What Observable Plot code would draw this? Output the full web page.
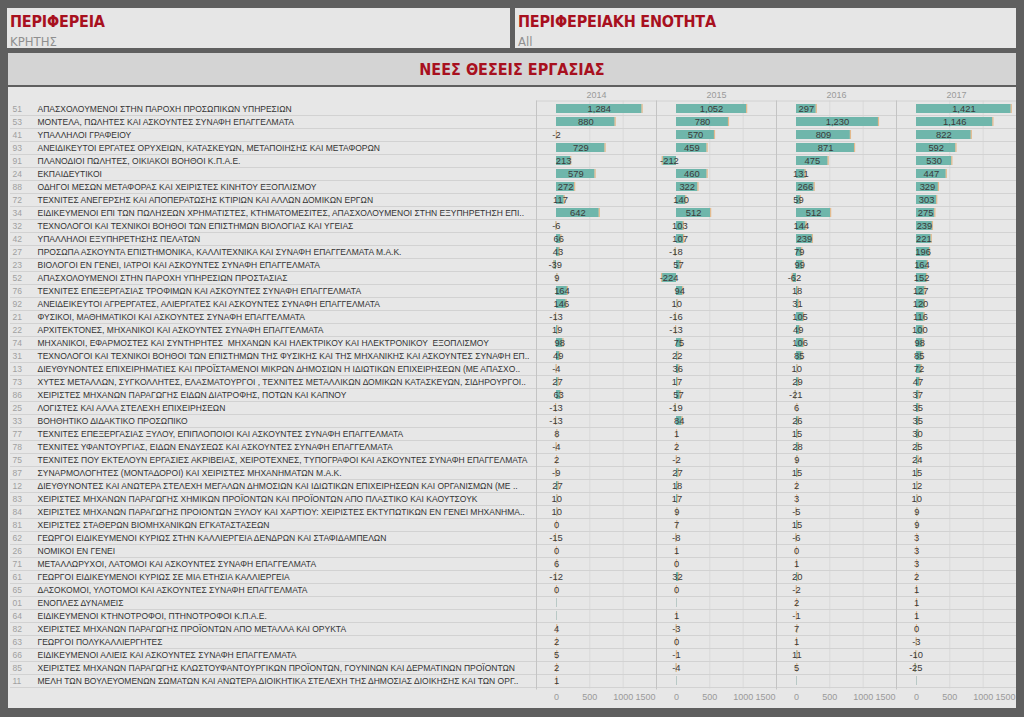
<!DOCTYPE html>
<html><head><meta charset="utf-8">
<script src="https://cdn.jsdelivr.net/npm/d3@7"></script>
<script src="https://cdn.jsdelivr.net/npm/@observablehq/plot@0.6"></script>
<style>
body{margin:0;background:#5f5f5f;width:1024px;height:717px;position:relative;overflow:hidden;font-family:"Liberation Sans",sans-serif}
.box{position:absolute;background:#e6e6e6}
.ttl{position:absolute;left:3px;top:4px;color:#a8101e;font:bold 16px "DejaVu Sans Condensed","DejaVu Sans",sans-serif;letter-spacing:-0.2px}
.val{position:absolute;left:3px;top:26px;color:#8f8f8f;font:13px "DejaVu Sans Condensed","DejaVu Sans",sans-serif}
#head{position:absolute;left:8px;top:53px;width:1008px;height:32px;background:#d4d4d4;display:flex;align-items:center;justify-content:center;color:#a8101e;font:bold 16px "DejaVu Sans Condensed","DejaVu Sans",sans-serif}
#tbl{position:absolute;left:8px;top:87px;width:1008px;height:621px;background:#e7e7e7}
</style></head>
<body>
<div class="box" style="left:7px;top:8px;width:503px;height:40px"><div class="ttl">ΠΕΡΙΦΕΡΕΙΑ</div><div class="val">ΚΡΗΤΗΣ</div></div>
<div class="box" style="left:515px;top:8px;width:501px;height:40px"><div class="ttl">ΠΕΡΙΦΕΡΕΙΑΚΗ ΕΝΟΤΗΤΑ</div><div class="val">All</div></div>
<div id="head">ΝΕΕΣ ΘΕΣΕΙΣ ΕΡΓΑΣΙΑΣ</div>
<div id="tbl"></div>
<script>
const years = ["2014", "2015", "2016", "2017"];
const codes = ["51","53","41","93","91","24","88","72","34","32","42","27","23","52","76","92","21","22","74","31","13","73","86","25","33","77","78","75","87","12","83","84","81","62","26","71","61","65","01","64","82","63","66","85","11"];
const labels = [
"ΑΠΑΣΧΟΛΟΥΜΕΝΟΙ ΣΤΗΝ ΠΑΡΟΧΗ ΠΡΟΣΩΠΙΚΩΝ ΥΠΗΡΕΣΙΩΝ",
"ΜΟΝΤΕΛΑ, ΠΩΛΗΤΕΣ ΚΑΙ ΑΣΚΟΥΝΤΕΣ ΣΥΝΑΦΗ ΕΠΑΓΓΕΛΜΑΤΑ",
"ΥΠΑΛΛΗΛΟΙ ΓΡΑΦΕΙΟΥ",
"ΑΝΕΙΔΙΚΕΥΤΟΙ ΕΡΓΑΤΕΣ ΟΡΥΧΕΙΩΝ, ΚΑΤΑΣΚΕΥΩΝ, ΜΕΤΑΠΟΙΗΣΗΣ ΚΑΙ ΜΕΤΑΦΟΡΩΝ",
"ΠΛΑΝΟΔΙΟΙ ΠΩΛΗΤΕΣ, ΟΙΚΙΑΚΟΙ ΒΟΗΘΟΙ Κ.Π.Α.Ε.",
"ΕΚΠΑΙΔΕΥΤΙΚΟΙ",
"ΟΔΗΓΟΙ ΜΕΣΩΝ ΜΕΤΑΦΟΡΑΣ ΚΑΙ ΧΕΙΡΙΣΤΕΣ ΚΙΝΗΤΟΥ ΕΞΟΠΛΙΣΜΟΥ",
"ΤΕΧΝΙΤΕΣ ΑΝΕΓΕΡΣΗΣ ΚΑΙ ΑΠΟΠΕΡΑΤΩΣΗΣ ΚΤΙΡΙΩΝ ΚΑΙ ΑΛΛΩΝ ΔΟΜΙΚΩΝ ΕΡΓΩΝ",
"ΕΙΔΙΚΕΥΜΕΝΟΙ ΕΠΙ ΤΩΝ ΠΩΛΗΣΕΩΝ ΧΡΗΜΑΤΙΣΤΕΣ, ΚΤΗΜΑΤΟΜΕΣΙΤΕΣ, ΑΠΑΣΧΟΛΟΥΜΕΝΟΙ ΣΤΗΝ ΕΞΥΠΗΡΕΤΗΣΗ ΕΠΙ..",
"ΤΕΧΝΟΛΟΓΟΙ ΚΑΙ ΤΕΧΝΙΚΟΙ ΒΟΗΘΟΙ ΤΩΝ ΕΠΙΣΤΗΜΩΝ ΒΙΟΛΟΓΙΑΣ ΚΑΙ ΥΓΕΙΑΣ",
"ΥΠΑΛΛΗΛΟΙ ΕΞΥΠΗΡΕΤΗΣΗΣ ΠΕΛΑΤΩΝ",
"ΠΡΟΣΩΠΑ ΑΣΚΟΥΝΤΑ ΕΠΙΣΤΗΜΟΝΙΚΑ, ΚΑΛΛΙΤΕΧΝΙΚΑ ΚΑΙ ΣΥΝΑΦΗ ΕΠΑΓΓΕΛΜΑΤΑ Μ.Α.Κ.",
"ΒΙΟΛΟΓΟΙ ΕΝ ΓΕΝΕΙ, ΙΑΤΡΟΙ ΚΑΙ ΑΣΚΟΥΝΤΕΣ ΣΥΝΑΦΗ ΕΠΑΓΓΕΛΜΑΤΑ",
"ΑΠΑΣΧΟΛΟΥΜΕΝΟΙ ΣΤΗΝ ΠΑΡΟΧΗ ΥΠΗΡΕΣΙΩΝ ΠΡΟΣΤΑΣΙΑΣ",
"ΤΕΧΝΙΤΕΣ ΕΠΕΞΕΡΓΑΣΙΑΣ ΤΡΟΦΙΜΩΝ ΚΑΙ ΑΣΚΟΥΝΤΕΣ ΣΥΝΑΦΗ ΕΠΑΓΓΕΛΜΑΤΑ",
"ΑΝΕΙΔΕΙΚΕΥΤΟΙ ΑΓΡΕΡΓΑΤΕΣ, ΑΛΙΕΡΓΑΤΕΣ ΚΑΙ ΑΣΚΟΥΝΤΕΣ ΣΥΝΑΦΗ ΕΠΑΓΓΕΛΜΑΤΑ",
"ΦΥΣΙΚΟΙ, ΜΑΘΗΜΑΤΙΚΟΙ ΚΑΙ ΑΣΚΟΥΝΤΕΣ ΣΥΝΑΦΗ ΕΠΑΓΓΕΛΜΑΤΑ",
"ΑΡΧΙΤΕΚΤΟΝΕΣ, ΜΗΧΑΝΙΚΟΙ ΚΑΙ ΑΣΚΟΥΝΤΕΣ ΣΥΝΑΦΗ ΕΠΑΓΓΕΛΜΑΤΑ",
"ΜΗΧΑΝΙΚΟΙ, ΕΦΑΡΜΟΣΤΕΣ ΚΑΙ ΣΥΝΤΗΡΗΤΕΣ  ΜΗΧΑΝΩΝ ΚΑΙ ΗΛΕΚΤΡΙΚΟΥ ΚΑΙ ΗΛΕΚΤΡΟΝΙΚΟΥ  ΕΞΟΠΛΙΣΜΟΥ",
"ΤΕΧΝΟΛΟΓΟΙ ΚΑΙ ΤΕΧΝΙΚΟΙ ΒΟΗΘΟΙ ΤΩΝ ΕΠΙΣΤΗΜΩΝ ΤΗΣ ΦΥΣΙΚΗΣ ΚΑΙ ΤΗΣ ΜΗΧΑΝΙΚΗΣ ΚΑΙ ΑΣΚΟΥΝΤΕΣ ΣΥΝΑΦΗ ΕΠ..",
"ΔΙΕΥΘΥΝΟΝΤΕΣ ΕΠΙΧΕΙΡΗΜΑΤΙΕΣ ΚΑΙ ΠΡΟΪΣΤΑΜΕΝΟΙ ΜΙΚΡΩΝ ΔΗΜΟΣΙΩΝ Η ΙΔΙΩΤΙΚΩΝ ΕΠΙΧΕΙΡΗΣΕΩΝ (ΜΕ ΑΠΑΣΧΟ..",
"ΧΥΤΕΣ ΜΕΤΑΛΛΩΝ, ΣΥΓΚΟΛΛΗΤΕΣ, ΕΛΑΣΜΑΤΟΥΡΓΟΙ , ΤΕΧΝΙΤΕΣ ΜΕΤΑΛΛΙΚΩΝ ΔΟΜΙΚΩΝ ΚΑΤΑΣΚΕΥΩΝ, ΣΙΔΗΡΟΥΡΓΟΙ..",
"ΧΕΙΡΙΣΤΕΣ ΜΗΧΑΝΩΝ ΠΑΡΑΓΩΓΗΣ ΕΙΔΩΝ ΔΙΑΤΡΟΦΗΣ, ΠΟΤΩΝ ΚΑΙ ΚΑΠΝΟΥ",
"ΛΟΓΙΣΤΕΣ ΚΑΙ ΑΛΛΑ ΣΤΕΛΕΧΗ ΕΠΙΧΕΙΡΗΣΕΩΝ",
"ΒΟΗΘΗΤΙΚΟ ΔΙΔΑΚΤΙΚΟ ΠΡΟΣΩΠΙΚΟ",
"ΤΕΧΝΙΤΕΣ ΕΠΕΞΕΡΓΑΣΙΑΣ ΞΥΛΟΥ, ΕΠΙΠΛΟΠΟΙΟΙ ΚΑΙ ΑΣΚΟΥΝΤΕΣ ΣΥΝΑΦΗ ΕΠΑΓΓΕΛΜΑΤΑ",
"ΤΕΧΝΙΤΕΣ ΥΦΑΝΤΟΥΡΓΙΑΣ, ΕΙΔΩΝ ΕΝΔΥΣΕΩΣ ΚΑΙ ΑΣΚΟΥΝΤΕΣ ΣΥΝΑΦΗ ΕΠΑΓΓΕΛΜΑΤΑ",
"ΤΕΧΝΙΤΕΣ ΠΟΥ ΕΚΤΕΛΟΥΝ ΕΡΓΑΣΙΕΣ ΑΚΡΙΒΕΙΑΣ, ΧΕΙΡΟΤΕΧΝΕΣ, ΤΥΠΟΓΡΑΦΟΙ ΚΑΙ ΑΣΚΟΥΝΤΕΣ ΣΥΝΑΦΗ ΕΠΑΓΓΕΛΜΑΤΑ",
"ΣΥΝΑΡΜΟΛΟΓΗΤΕΣ (ΜΟΝΤΑΔΟΡΟΙ) ΚΑΙ ΧΕΙΡΙΣΤΕΣ ΜΗΧΑΝΗΜΑΤΩΝ Μ.Α.Κ.",
"ΔΙΕΥΘΥΝΟΝΤΕΣ ΚΑΙ ΑΝΩΤΕΡΑ ΣΤΕΛΕΧΗ ΜΕΓΑΛΩΝ ΔΗΜΟΣΙΩΝ ΚΑΙ ΙΔΙΩΤΙΚΩΝ ΕΠΙΧΕΙΡΗΣΕΩΝ ΚΑΙ ΟΡΓΑΝΙΣΜΩΝ (ΜΕ ..",
"ΧΕΙΡΙΣΤΕΣ ΜΗΧΑΝΩΝ ΠΑΡΑΓΩΓΗΣ ΧΗΜΙΚΩΝ ΠΡΟΪΟΝΤΩΝ ΚΑΙ ΠΡΟΪΟΝΤΩΝ ΑΠΟ ΠΛΑΣΤΙΚΟ ΚΑΙ ΚΑΟΥΤΣΟΥΚ",
"ΧΕΙΡΙΣΤΕΣ ΜΗΧΑΝΩΝ ΠΑΡΑΓΩΓΗΣ ΠΡΟΙΟΝΤΩΝ ΞΥΛΟΥ ΚΑΙ ΧΑΡΤΙΟΥ: ΧΕΙΡΙΣΤΕΣ ΕΚΤΥΠΩΤΙΚΩΝ ΕΝ ΓΕΝΕΙ ΜΗΧΑΝΗΜΑ..",
"ΧΕΙΡΙΣΤΕΣ ΣΤΑΘΕΡΩΝ ΒΙΟΜΗΧΑΝΙΚΩΝ ΕΓΚΑΤΑΣΤΑΣΕΩΝ",
"ΓΕΩΡΓΟΙ ΕΙΔΙΚΕΥΜΕΝΟΙ ΚΥΡΙΩΣ ΣΤΗΝ ΚΑΛΛΙΕΡΓΕΙΑ ΔΕΝΔΡΩΝ ΚΑΙ ΣΤΑΦΙΔΑΜΠΕΛΩΝ",
"ΝΟΜΙΚΟΙ ΕΝ ΓΕΝΕΙ",
"ΜΕΤΑΛΛΩΡΥΧΟΙ, ΛΑΤΟΜΟΙ ΚΑΙ ΑΣΚΟΥΝΤΕΣ ΣΥΝΑΦΗ ΕΠΑΓΓΕΛΜΑΤΑ",
"ΓΕΩΡΓΟΙ ΕΙΔΙΚΕΥΜΕΝΟΙ ΚΥΡΙΩΣ ΣΕ ΜΙΑ ΕΤΗΣΙΑ ΚΑΛΛΙΕΡΓΕΙΑ",
"ΔΑΣΟΚΟΜΟΙ, ΥΛΟΤΟΜΟΙ ΚΑΙ ΑΣΚΟΥΝΤΕΣ ΣΥΝΑΦΗ ΕΠΑΓΓΕΛΜΑΤΑ",
"ΕΝΟΠΛΕΣ ΔΥΝΑΜΕΙΣ",
"ΕΙΔΙΚΕΥΜΕΝΟΙ ΚΤΗΝΟΤΡΟΦΟΙ, ΠΤΗΝΟΤΡΟΦΟΙ Κ.Π.Α.Ε.",
"ΧΕΙΡΙΣΤΕΣ ΜΗΧΑΝΩΝ ΠΑΡΑΓΩΓΗΣ ΠΡΟΪΟΝΤΩΝ ΑΠΟ ΜΕΤΑΛΛΑ ΚΑΙ ΟΡΥΚΤΑ",
"ΓΕΩΡΓΟΙ ΠΟΛΥΚΑΛΛΙΕΡΓΗΤΕΣ",
"ΕΙΔΙΚΕΥΜΕΝΟΙ ΑΛΙΕΙΣ ΚΑΙ ΑΣΚΟΥΝΤΕΣ ΣΥΝΑΦΗ ΕΠΑΓΓΕΛΜΑΤΑ",
"ΧΕΙΡΙΣΤΕΣ ΜΗΧΑΝΩΝ ΠΑΡΑΓΩΓΗΣ ΚΛΩΣΤΟΥΦΑΝΤΟΥΡΓΙΚΩΝ ΠΡΟΪΟΝΤΩΝ, ΓΟΥΝΙΝΩΝ ΚΑΙ ΔΕΡΜΑΤΙΝΩΝ ΠΡΟΪΟΝΤΩΝ",
"ΜΕΛΗ ΤΩΝ ΒΟΥΛΕΥΟΜΕΝΩΝ ΣΩΜΑΤΩΝ ΚΑΙ ΑΝΩΤΕΡΑ ΔΙΟΙΚΗΤΙΚΑ ΣΤΕΛΕΧΗ ΤΗΣ ΔΗΜΟΣΙΑΣ ΔΙΟΙΚΗΣΗΣ ΚΑΙ ΤΩΝ ΟΡΓ.."
];
const v2014 = [1284,880,-2,729,213,579,272,117,642,-6,66,43,-39,9,164,146,-13,19,98,49,-4,27,63,-13,-13,8,-4,2,-9,27,10,10,0,-15,0,6,-12,0,null,null,4,2,5,2,1];
const v2015 = [1052,780,570,459,-212,460,322,140,512,103,107,-18,57,-224,94,10,-16,-13,75,22,36,17,57,-19,84,1,2,-2,27,18,17,9,7,-8,1,0,32,0,null,1,-3,0,-1,-4,null];
const v2016 = [297,1230,809,871,475,131,266,59,512,144,239,79,99,-62,18,31,105,49,106,85,10,29,-21,6,26,15,28,9,15,2,3,-5,15,-6,0,1,20,-2,2,-1,7,1,11,5,null];
const v2017 = [1421,1146,822,592,530,447,329,303,275,239,221,196,164,152,127,120,116,100,98,85,72,47,37,35,35,30,25,24,15,12,10,9,9,3,3,3,2,1,1,1,0,-3,-10,-25,null];
const xTicks = [0, 500, 1000, 1500];

const series = [v2014, v2015, v2016, v2017];
const cells = [];
codes.forEach((c, i) => years.forEach((y, j) => cells.push({code: c, year: y, value: series[j][i]})));
const present = cells.filter(d => d.value != null);
const missing = cells.filter(d => d.value == null);
const rowsInfo = codes.map((c, i) => ({code: c, label: labels[i], year: years[0]}));
const fmt = v => (v < 0 ? "-" : "") + d3.format(",")(Math.abs(v));

const chart = Plot.plot({
  width: 1008,
  height: 621,
  marginLeft: 528,
  marginRight: 0,
  marginTop: 13.5,
  marginBottom: 19.5,
  style: {background: "transparent", fontFamily: "Liberation Sans, sans-serif"},
  fx: {domain: years, padding: 0, axis: "top", label: null, tickSize: 0, tickPadding: 3},
  x: {domain: [-300, 1500], label: null},
  y: {domain: codes, padding: 0, axis: null},
  marks: [
    Plot.gridX({ticks: xTicks.slice(1, 3), stroke: "#d9d9d9", strokeOpacity: 1}),
    Plot.axisY({tickSize: 526, tickFormat: () => "", label: null, stroke: "#d2d2d2", strokeOpacity: 1, dy: 6.53}),
    Plot.gridY({stroke: "#d2d2d2", strokeOpacity: 1, dy: 6.53}),
    Plot.frame({anchor: "top", stroke: "#d2d2d2"}),
    Plot.frame({anchor: "left", stroke: "#c4c4c4"}),
    Plot.barX(present, {x1: 0, x2: "value", y: "code", fx: "year", fill: "#6fb6ab", insetTop: 2, insetBottom: 2}),
    Plot.tickX(present, {x: "value", y: "code", fx: "year", stroke: "#e3b98c", strokeWidth: 1.2, insetTop: 2, insetBottom: 2}),
    Plot.tickX(missing, {x: 0, y: "code", fx: "year", stroke: "#b9c9c6", strokeWidth: 1, insetTop: 2, insetBottom: 2}),
    Plot.text(present, {x: d => d.value / 2, y: "code", fx: "year", text: d => fmt(d.value), fill: "#3a3a3a", fontSize: 9.4}),
    Plot.text(rowsInfo, {frameAnchor: "left", y: "code", fx: "year", text: "code", textAnchor: "start", dx: -524, fill: "#a0a0a0", fontSize: 8.5}),
    Plot.text(rowsInfo, {frameAnchor: "left", y: "code", fx: "year", text: "label", textAnchor: "start", dx: -499, fill: "#333", fontSize: 8.5}),
    Plot.axisX({ticks: xTicks.slice(0, 3), tickFormat: d => String(d), label: null, tickSize: 0, tickPadding: 5, fill: "#9a9a9a", fontSize: 9}),
    Plot.axisX({ticks: xTicks.slice(3), tickFormat: d => String(d), label: null, tickSize: 0, tickPadding: 5, fill: "#9a9a9a", fontSize: 9, textAnchor: "end", dx: -1})
  ]
});
chart.style.color = "#9a9a9a";
chart.style.fontSize = "9px";
document.getElementById("tbl").appendChild(chart);
</script>
</body></html>
